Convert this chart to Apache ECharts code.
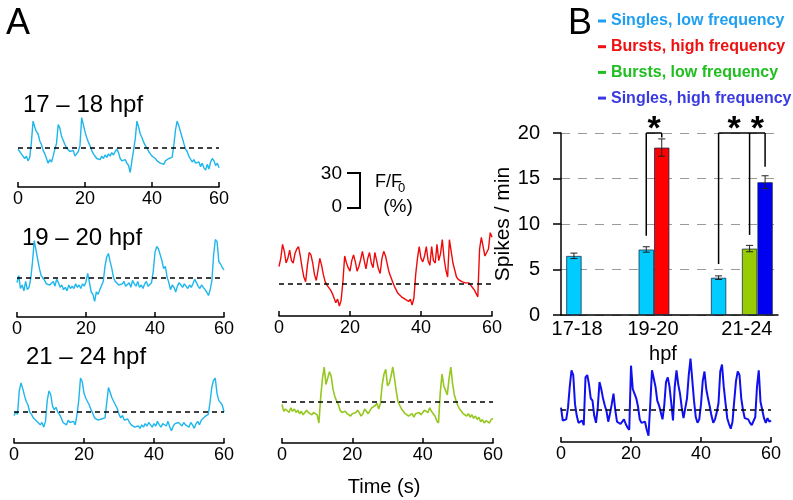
<!DOCTYPE html>
<html><head><meta charset="utf-8">
<script src="https://cdn.jsdelivr.net/npm/echarts@6/dist/echarts.min.js"></script>
<style>html,body{margin:0;padding:0;background:#fff}#c{width:793px;height:500px}</style>
</head><body><div id="c"></div>
<script>
// ---------- DATA ----------
const TIME = [0,0.5,1,1.5,2,2.5,3,3.5,4,4.5,5,5.5,6,6.5,7,7.5,8,8.5,9,9.5,10,10.5,11,11.5,12,12.5,13,13.5,14,14.5,15,15.5,16,16.5,17,17.5,18,18.5,19,19.5,20,20.5,21,21.5,22,22.5,23,23.5,24,24.5,25,25.5,26,26.5,27,27.5,28,28.5,29,29.5,30,30.5,31,31.5,32,32.5,33,33.5,34,34.5,35,35.5,36,36.5,37,37.5,38,38.5,39,39.5,40,40.5,41,41.5,42,42.5,43,43.5,44,44.5,45,45.5,46,46.5,47,47.5,48,48.5,49,49.5,50,50.5,51,51.5,52,52.5,53,53.5,54,54.5,55,55.5,56,56.5,57,57.5,58,58.5,59,59.5,60];
const TRACE_TICKS = [0, 20, 40, 60];

// dF/F0 (%) traces
const TRACE_17_18 = [
 -1,-3,-5,-4,-9,-7,-11,-8,5,23,
 18,14,12,6,3,-2,-5,-9,-13,-10,
 -12,-7,-1,4,20,17,10,9,3,0,
 -1,-3,-4,-2,-7,-6,-3,2,26,20,
 14,9,5,2,-2,-5,-6,-9,-8,-10,
 -7,-9,-6,-8,-5,-7,-4,-6,-3,-1,
 -4,-9,-11,-12,-10,-13,-15,-21,-11,-2,
 8,23,18,12,9,5,2,0,-3,-5,
 -7,-6,-9,-11,-12,-13,-12,-14,-11,-12,
 -9,-10,-8,2,15,23,19,14,9,4,
 -1,-3,-7,-8,-12,-10,-13,-14,-12,-16,
 -13,-17,-19,-14,-18,-12,-9,-11,-15,-13,
 -17];
const TRACE_19_20 = [
 -4,2,-9,-6,-11,-3,-10,-8,0,14,
 32,24,16,8,2,0,-2,-5,-4,-6,
 -5,-3,-7,-1,-4,-8,-6,-10,-8,-11,
 -6,-9,-7,-9,-5,-8,-6,-9,-5,-7,
 -3,4,-4,-12,-14,-20,-12,-14,-10,-11,
 -3,10,18,21,14,8,0,-3,-4,-6,
 -7,-5,-3,-7,-6,-4,-8,-2,-5,-7,
 -3,-8,-6,-9,-5,-3,-7,-6,-4,6,
 22,27,25,20,15,8,10,1,-4,-10,
 -6,-8,-12,-7,-4,-6,-8,-5,-7,-9,
 -6,-8,-5,-1,-4,-7,-9,-6,-8,-10,
 -12,-15,-10,-2,20,33,31,14,12,9,
 7];
const TRACE_21_24 = [
 -3,0,-2,18,25,20,14,9,6,0,
 -2,-5,-4,-8,-7,-11,-9,-13,-8,10,
 18,15,5,2,4,0,-2,-5,-9,-8,
 -11,-7,-9,-10,-8,-11,-2,10,29,26,
 16,12,9,6,2,-1,-5,-4,-7,-8,
 -6,-7,-5,8,21,20,12,9,8,3,
 -2,-5,-3,-7,-8,-6,-9,-11,-10,-13,
 -14,-12,-14,-11,-13,-10,-12,-9,-11,-13,
 -10,-12,-8,-11,-13,-10,-9,-12,-8,-13,
 -16,-12,-10,-11,-9,-10,-12,-9,-11,-10,
 -13,-9,-11,-14,-10,-8,-11,-7,-6,-4,
 -3,-2,8,21,27,29,16,10,8,6,
 0];
const TRACE_BURSTS_HIGH = [
 15,22,34,28,18,22,29,20,18,26,
 30,32,24,14,6,2,16,27,25,18,
 8,3,12,22,16,8,2,-1,-2,-5,
 -8,-12,-16,-13,-19,-14,2,24,18,14,
 11,20,25,19,11,15,21,28,20,13,
 22,27,18,14,27,20,13,9,22,28,
 24,17,10,6,2,-2,-5,-8,-9,-11,
 -12,-13,-14,-15,-13,-18,-12,8,22,32,
 22,19,24,32,20,16,32,20,18,34,
 20,26,38,22,12,6,38,28,18,12,
 6,4,3,2,1,1,0,1,-1,-3,
 -5,-8,-11,30,40,32,24,24,30,44,
 40];
const TRACE_BURSTS_LOW = [
 -2,-8,-6,-7,-9,-5,-8,-6,-9,-7,
 -10,-8,-11,-9,-7,-9,-8,-11,-9,-10,
 -11,-18,4,20,30,15,14,26,22,11,
 5,1,-2,-7,-9,-10,-8,-10,-9,-12,
 -10,-11,-9,-7,-8,-12,-10,-6,-8,-10,
 -9,-5,-4,-3,-1,-6,-1,15,24,28,
 14,16,22,30,20,9,0,-3,-6,-8,
 -10,-9,-12,-11,-10,-13,-10,-11,-9,-11,
 -10,-7,-6,-9,-5,-8,-10,-12,-16,-18,
 8,24,14,10,6,20,30,16,6,1,
 -3,-6,-8,-10,-9,-12,-10,-13,-11,-14,
 -12,-15,-13,-17,-15,-18,-16,-15,-18,-15,
 -14];
const TRACE_SINGLES_HIGH = [
 2,-9,-9,-8,2,20,34,30,5,-5,
 -11,-12,-9,-13,28,30,22,10,8,-5,
 -11,2,24,18,10,4,-1,-10,-3,5,
 14,0,-10,-11,-12,-10,-8,-12,-15,-17,
 38,18,14,10,3,-8,-11,-12,-10,-17,
 -22,5,34,34,20,8,4,-2,-8,4,
 24,28,20,6,-9,20,34,22,14,2,
 -7,-8,10,30,44,26,8,-6,-11,-8,
 5,25,33,18,10,3,-5,-11,-8,-2,
 6,33,39,20,6,-7,-12,-16,-10,8,
 25,33,30,10,0,-7,-6,-8,-11,-13,
 -14,-6,20,34,7,0,-7,-11,-7,-10,
 -9];

// Panel B
const CATEGORIES = ['17-18', '19-20', '21-24'];
const Y_TICKS = [0, 5, 10, 15, 20];
const SERIES_NAMES = ['Singles, low frequency', 'Bursts, high frequency', 'Bursts, low frequency', 'Singles, high frequency'];
const SINGLES_LOW = [6.5, 7.2, 4.1];
const SINGLES_LOW_ERR = [0.3, 0.3, 0.2];
const BURSTS_HIGH = [null, 18.4, null];
const BURSTS_HIGH_ERR = [null, 0.95, null];
const BURSTS_LOW = [null, null, 7.3];
const BURSTS_LOW_ERR = [null, null, 0.35];
const SINGLES_HIGH = [null, null, 14.6];
const SINGLES_HIGH_ERR = [null, null, 0.7];
// significance brackets: category index, legs [series slot, bottom value], top value
const SIG_CATS = [1, 2];
const SIG_LEGS = [[[0, 8.7], [1, 19.5]], [[0, 5.6], [2, 8.8], [3, 16.3]]];
const SIG_TOP = 20;

// ---------- STYLE / LAYOUT ----------
const FONT = "'Liberation Sans', Arial, Helvetica, sans-serif";
const K = 35 / 30; // px per % (scale bar: 30% = 35 px)
const YMAX = 50;
const TRACES = [
  {data: TRACE_17_18, color: '#1fb6ec', x0: 18, x1: 219, dash: 148, axis: 187, w: 1.4},
  {data: TRACE_19_20, color: '#1fb6ec', x0: 17, x1: 224, dash: 278, axis: 317, w: 1.4},
  {data: TRACE_21_24, color: '#1fb6ec', x0: 14, x1: 224, dash: 412, axis: 443, w: 1.4},
  {data: TRACE_BURSTS_HIGH, color: '#ee0a0a', x0: 279, x1: 492, dash: 284, axis: 316, w: 1.4},
  {data: TRACE_BURSTS_LOW, color: '#95c81e', x0: 282, x1: 493, dash: 402, axis: 443, w: 1.6},
  {data: TRACE_SINGLES_HIGH, color: '#1010ee', x0: 561, x1: 771, dash: 410, axis: 442, w: 2}
];
const BAR_W = 15.5;
const BAR_COLORS = ['#00ccff', '#ff0000', '#99cc00', '#0000f0'];
const LEGEND_COLORS = ['#1e9ff0', '#ee1111', '#20be20', '#3a3ae2'];

const grids = [], xAxes = [], yAxes = [], series = [];
TRACES.forEach((tr, i) => {
  const top = tr.dash - YMAX * K;
  grids.push({left: tr.x0, width: tr.x1 - tr.x0, top: top, height: tr.axis - top, outerBoundsMode: 'none'});
  xAxes.push({gridIndex: i, type: 'value', min: 0, max: 60, interval: 20,
    axisLine: {onZero: false, lineStyle: {color: '#000', width: 1.5}},
    axisTick: {inside: true, length: 5, lineStyle: {color: '#000', width: 1.5}},
    axisLabel: {fontSize: 18, color: '#000', margin: 3, fontFamily: FONT},
    splitLine: {show: false}});
  yAxes.push({gridIndex: i, type: 'value', min: -(tr.axis - tr.dash) / K, max: YMAX, show: false});
  series.push({type: 'line', xAxisIndex: i, yAxisIndex: i, showSymbol: false, silent: true,
    data: TIME.map((t, j) => [t, tr.data[j]]),
    lineStyle: {color: tr.color, width: tr.w}, itemStyle: {color: tr.color},
    markLine: {silent: true, symbol: 'none', label: {show: false},
      lineStyle: {color: '#000', type: [5, 4], width: 1.5}, emphasis: {disabled: true},
      data: [{yAxis: 0}]}});
});

// Panel B grid
const BI = TRACES.length;
grids.push({left: 561, width: 217, top: 133, height: 182, outerBoundsMode: 'none'});
xAxes.push({gridIndex: BI, type: 'category', data: CATEGORIES,
  axisLine: {lineStyle: {color: '#000', width: 1.5}}, axisTick: {show: false},
  name: 'hpf', nameLocation: 'middle', nameGap: 29,
  nameTextStyle: {fontSize: 20, color: '#000', fontFamily: FONT, padding: [0, 13, 0, 0]},
  axisLabel: {interval: 0, margin: 4, color: '#000', fontFamily: FONT, fontSize: 20,
    formatter: (v, i) => '{c' + i + '|' + v + '}',
    rich: {c0: {fontSize: 20, fontFamily: FONT, padding: [0, 40, 0, 0]},
           c1: {fontSize: 20, fontFamily: FONT, padding: [0, 33, 0, 0]},
           c2: {fontSize: 20, fontFamily: FONT, padding: [0, 0, 0, 10]}}}});
yAxes.push({gridIndex: BI, type: 'value', min: Y_TICKS[0], max: Y_TICKS[Y_TICKS.length - 1], interval: 5,
  name: 'Spikes / min', nameLocation: 'middle', nameGap: 45, nameRotate: 90,
  nameTextStyle: {fontSize: 21, color: '#000', fontFamily: FONT},
  axisLine: {show: true, lineStyle: {color: '#000', width: 1.5}},
  axisTick: {show: true, length: 8, lineStyle: {color: '#000', width: 1.5}},
  axisLabel: {fontSize: 20, color: '#000', margin: 21, fontFamily: FONT},
  splitLine: {show: true, lineStyle: {color: '#9a9a9a', type: [9, 8], width: 1}}});

const BAR_DATA = [SINGLES_LOW, BURSTS_HIGH, BURSTS_LOW, SINGLES_HIGH];
const ERR_DATA = [SINGLES_LOW_ERR, BURSTS_HIGH_ERR, BURSTS_LOW_ERR, SINGLES_HIGH_ERR];
BAR_DATA.forEach((d, s) => {
  series.push({type: 'bar', name: SERIES_NAMES[s], xAxisIndex: BI, yAxisIndex: BI, data: d,
    barWidth: BAR_W, barGap: '0%', silent: true,
    itemStyle: {color: BAR_COLORS[s], borderColor: 'rgba(20,40,70,0.75)', borderWidth: 1}});
});
const errItems = [];
BAR_DATA.forEach((d, s) => d.forEach((v, c) => { if (v != null) errItems.push([c, s, v, ERR_DATA[s][c]]); }));
series.push({type: 'custom', xAxisIndex: BI, yAxisIndex: BI, silent: true, clip: false, z: 5,
  encode: {x: 0, y: 2}, data: errItems,
  renderItem: (params, api) => {
    const c = api.value(0), s = api.value(1), v = api.value(2), e = api.value(3);
    const x = api.coord([c, v])[0] + (s - 1.5) * BAR_W;
    const yh = api.coord([c, v + e])[1], yl = api.coord([c, v - e])[1];
    const st = {stroke: '#222', lineWidth: 1};
    return {type: 'group', children: [
      {type: 'line', shape: {x1: x, y1: yh, x2: x, y2: yl}, style: st},
      {type: 'line', shape: {x1: x - 3.5, y1: yh, x2: x + 3.5, y2: yh}, style: st},
      {type: 'line', shape: {x1: x - 3.5, y1: yl, x2: x + 3.5, y2: yl}, style: st}]};
  }});
series.push({type: 'custom', xAxisIndex: BI, yAxisIndex: BI, silent: true, clip: false, z: 6,
  encode: {x: 0, y: 1}, data: SIG_CATS.map(c => [c, SIG_TOP]),
  renderItem: (params, api) => {
    const legs = SIG_LEGS[params.dataIndex];
    const cat = api.value(0);
    const cx = api.coord([cat, 0])[0];
    const topY = api.coord([cat, SIG_TOP])[1];
    const xs = legs.map(l => cx + (l[0] - 1.5) * BAR_W);
    const st = {stroke: '#000', lineWidth: 1.5};
    const ch = [{type: 'line', shape: {x1: xs[0], y1: topY, x2: xs[xs.length - 1], y2: topY}, style: st}];
    legs.forEach((l, i) => ch.push({type: 'line', shape: {x1: xs[i], y1: topY, x2: xs[i], y2: api.coord([cat, l[1]])[1]}, style: st}));
    for (let i = 0; i < xs.length - 1; i++) {
      ch.push({type: 'text', style: {text: '*', x: (xs[i] + xs[i + 1]) / 2, y: topY - 3,
        fontSize: 34, fontWeight: 'bold', fontFamily: FONT, fill: '#000',
        align: 'center', verticalAlign: 'middle'}});
    }
    return {type: 'group', children: ch};
  }});

function txt(text, x, y, size, opts) {
  return Object.assign({type: 'text', x: x, y: y, silent: true,
    style: Object.assign({text: text, fontSize: size, fontFamily: FONT, fill: '#000',
      align: 'left', verticalAlign: 'middle', textAlign: 'left', textVerticalAlign: 'middle'}, opts || {})});
}
const graphics = [
  txt('A', 6, 24, 36),
  txt('B', 568, 24, 36),
  txt('17 – 18 hpf', 23, 105, 24),
  txt('19 – 20 hpf', 22, 238, 24),
  txt('21 – 24 hpf', 26, 357, 24),
  txt('Time (s)', 384, 487, 20, {align: 'center', textAlign: 'center'}),
  // scale bar
  {type: 'polyline', silent: true, shape: {points: [[347, 173], [360, 173], [360, 208], [347, 208]]},
    style: {stroke: '#000', lineWidth: 2, fill: null}},
  txt('30', 342, 174, 19, {align: 'right', textAlign: 'right'}),
  txt('0', 342, 207, 19, {align: 'right', textAlign: 'right'}),
  txt('F/F', 375, 182, 18),
  txt('0', 398, 188, 13),
  txt('(%)', 398, 207, 19, {align: 'center', textAlign: 'center'})
];

const chart = echarts.init(document.getElementById('c'), null, {renderer: 'canvas'});
chart.setOption({
  animation: false,
  backgroundColor: '#fff',
  textStyle: {fontFamily: FONT},
  legend: {orient: 'vertical', left: 598, top: 11, padding: 0, itemWidth: 8, itemHeight: 3, itemGap: 5.7,
    selectedMode: false, icon: 'rect',
    textStyle: {fontSize: 16, fontWeight: 'bold', fontFamily: FONT, lineHeight: 20},
    data: SERIES_NAMES.map((n, i) => ({name: n, icon: 'rect', itemStyle: {color: LEGEND_COLORS[i], borderWidth: 0},
      textStyle: {color: LEGEND_COLORS[i], fontSize: 16, fontWeight: 'bold', fontFamily: FONT, lineHeight: 20}}))},
  grid: grids, xAxis: xAxes, yAxis: yAxes, series: series, graphic: graphics
});
</script></body></html>
